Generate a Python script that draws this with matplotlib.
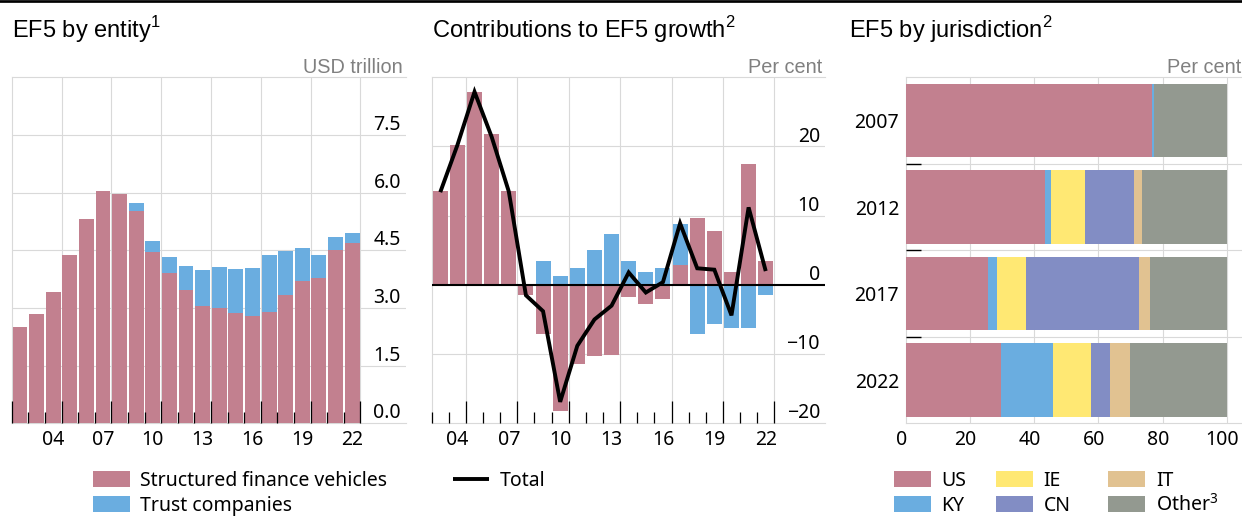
import numpy as np
import matplotlib
matplotlib.use("Agg")
import matplotlib.pyplot as plt
from matplotlib.patches import Rectangle
from matplotlib.lines import Line2D
from matplotlib.transforms import ScaledTranslation

plt.rcParams["font.family"] = ["Noto Sans", "DejaVu Sans"]
plt.rcParams["axes.unicode_minus"] = True

# ---------------- data ----------------
# EF5 by entity, USD trillion
entity_years = list(range(2002, 2023))
sfv_level = [2.51, 2.84, 3.42, 4.38, 5.32, 6.04, 5.97, 5.52, 4.46, 3.91, 3.48,
             3.06, 3.01, 2.87, 2.80, 2.90, 3.34, 3.69, 3.79, 4.52, 4.69]
trust_level = [0.0, 0.0, 0.0, 0.0, 0.0, 0.0, 0.0, 0.21, 0.28, 0.42, 0.61,
               0.93, 1.06, 1.14, 1.24, 1.48, 1.14, 0.87, 0.59, 0.33, 0.26]

# Contributions to EF5 growth, per cent
growth_years = list(range(2003, 2023))
sfv_contrib = [13.5, 20.2, 27.9, 21.8, 13.6, -1.5, -7.1, -18.2, -11.4, -10.3,
               -10.1, -1.8, -2.8, -2.1, 2.9, 9.6, 7.8, 1.9, 17.4, 3.5]
trust_contrib = [0.0, 0.0, 0.0, 0.0, 0.0, 0.0, 3.4, 1.35, 2.5, 5.1,
                 7.3, 3.5, 1.8, 2.4, 5.9, -7.1, -5.7, -6.25, -6.25, -1.5]
total_growth = [13.4, 20.2, 27.9, 21.4, 13.5, -1.5, -3.8, -16.9, -8.8, -5.0,
                -3.0, 1.8, -1.1, 0.4, 8.9, 2.4, 2.2, -4.4, 11.2, 2.0]

# EF5 by jurisdiction, per cent
jur_years = ["2007", "2012", "2017", "2022"]
jur_names = ["US", "KY", "IE", "CN", "IT", "Other"]
share_us = [76.6, 43.4, 25.5, 29.7]
share_ky = [0.6, 1.9, 2.9, 16.2]
share_ie = [0.0, 10.6, 9.0, 11.8]
share_cn = [0.0, 15.3, 35.2, 5.9]
share_it = [0.0, 2.5, 3.4, 6.2]
share_other = [22.8, 26.3, 24.0, 30.2]

# ---------------- style ----------------
PINK = "#C2808F"
BLUE = "#6AADE0"
YELLOW = "#FFE873"
PURPLE = "#828DC4"
TAN = "#E1C291"
GREYBAR = "#939990"
GRID = "#D9D9D9"
UNIT = "#808080"
TICK_FS = 14
LEG_FS = 14
TITLE_FS = 17
TITLE_FONT = ["Liberation Sans", "DejaVu Sans"]

W, H = 1242, 516
fig = plt.figure(figsize=(W / 100, H / 100), dpi=100)


def axes_px(left, top, right, bottom):
    return fig.add_axes([left / W, 1 - bottom / H, (right - left) / W, (bottom - top) / H])


def frame(ax):
    for side in ("left", "top", "bottom"):
        ax.spines[side].set_color(GRID)
        ax.spines[side].set_linewidth(0.8)
        ax.spines[side].set_zorder(0.5)
    ax.spines["right"].set_visible(False)


def guides(ax, xs=(), ys=()):
    for x in xs:
        ax.axvline(x, color=GRID, lw=0.8, zorder=0)
    for y in ys:
        ax.axhline(y, color=GRID, lw=0.8, zorder=0)


def inside_right_labels(ax, ticks, labels):
    ax.yaxis.tick_right()
    ax.set_yticks(ticks)
    ax.set_yticklabels(labels)
    ax.tick_params(axis="y", which="both", length=0, pad=-3.6, labelsize=TICK_FS)
    plt.setp(ax.get_yticklabels(), ha="right", va="bottom")


def year_axis(ax, first_edge, major_edges, label_years):
    ax.set_xticks(major_edges)
    ax.set_xticks(np.arange(first_edge, major_edges[-1] + 0.01, 1.0), minor=True)
    ax.tick_params(axis="x", which="major", direction="in", length=15.8, width=0.9,
                   color="black", labelbottom=False)
    ax.tick_params(axis="x", which="minor", direction="in", length=7.9, width=0.9,
                   color="black")
    sec = ax.secondary_xaxis("bottom")
    sec.set_xticks(label_years)
    sec.set_xticklabels([f"{y % 100:02d}" for y in label_years])
    sec.tick_params(length=0, pad=4.5, labelsize=TICK_FS)
    sec.spines["bottom"].set_visible(False)


def unit_label(ax, text, dx=-3):
    ax.annotate(text, xy=(1, 1), xycoords="axes fraction",
                xytext=(dx * 0.72, 4.6 * 0.72), textcoords="offset points",
                ha="right", va="baseline", fontsize=14.3, color=UNIT,
                family=TITLE_FONT)


label_years = [2004, 2007, 2010, 2013, 2016, 2019, 2022]

# ---------------- panel 1: EF5 by entity ----------------
ax1 = axes_px(11.7, 77.3, 406, 423.3)
frame(ax1)
x1 = np.array(entity_years)
sfv1 = np.array(sfv_level)
ax1.bar(x1, sfv1, width=0.9, color=PINK, zorder=1)
ax1.bar(x1, trust_level, width=0.9, bottom=sfv1, color=BLUE, zorder=1)
ax1.set_xlim(2001.5, 2025.25)
ax1.set_ylim(0, 9)
guides(ax1, xs=np.arange(2004.5, 2023, 3), ys=np.arange(1.5, 9, 1.5))
inside_right_labels(ax1, np.arange(0, 9, 1.5), [f"{v:.1f}" for v in np.arange(0, 9, 1.5)])
year_axis(ax1, 2001.5, np.arange(2001.5, 2023, 3), label_years)
unit_label(ax1, "USD trillion")

# ---------------- panel 2: contributions to growth ----------------
ax2 = axes_px(431.7, 77.3, 825, 423.3)
frame(ax2)
x2 = np.array(growth_years)
sfv2 = np.array(sfv_contrib)
tr2 = np.array(trust_contrib)
trust_base = np.where(np.sign(tr2) == np.sign(sfv2), sfv2, 0.0)
ax2.bar(x2, sfv2, width=0.88, color=PINK, zorder=1)
ax2.bar(x2, tr2, width=0.88, bottom=trust_base, color=BLUE, zorder=1)
ax2.axhline(0, color="black", lw=1.5, zorder=3)
ax2.plot(x2, total_growth, color="black", lw=2.8, zorder=4,
         solid_joinstyle="miter", solid_capstyle="butt")
ax2.set_xlim(2002.5, 2025.46)
ax2.set_ylim(-20, 30)
guides(ax2, xs=np.arange(2004.5, 2023, 3), ys=[-10, 10, 20])
inside_right_labels(ax2, [-20, -10, 0, 10, 20], ["\u221220", "\u221210", "0", "10", "20"])
year_axis(ax2, 2002.5, np.arange(2004.5, 2023, 3), label_years)
unit_label(ax2, "Per cent")

# ---------------- panel 3: by jurisdiction ----------------
ax3 = axes_px(905.7, 77.3, 1241.5, 423.3)
frame(ax3)
y3 = np.arange(len(jur_years))
shares = [share_us, share_ky, share_ie, share_cn, share_it, share_other]
colors3 = [PINK, BLUE, YELLOW, PURPLE, TAN, GREYBAR]
left = np.zeros(len(jur_years))
for vals, col, name in zip(shares, colors3, jur_names):
    ax3.barh(y3, vals, left=left, height=0.85, color=col, zorder=1, label=name)
    left = left + np.array(vals)
ax3.set_ylim(3.5, -0.5)
ax3.set_xlim(0, 104.6)
guides(ax3, xs=[20, 40, 60, 80, 100], ys=[0.5, 1.5, 2.5])
ax3.set_yticks(y3)
ax3.set_yticklabels(jur_years)
ax3.set_yticks([0.5, 1.5, 2.5], minor=True)
ax3.tick_params(axis="y", which="major", length=0, pad=4.8, labelsize=TICK_FS)
ax3.tick_params(axis="y", which="minor", direction="in", length=10.8, width=1.0,
                color="black")
ax3.set_xticks([0, 20, 40, 60, 80, 100])
ax3.tick_params(axis="x", length=0, pad=4.5, labelsize=TICK_FS)
# percentage labels sit slightly left of their gridlines
shift_left = ScaledTranslation(-4.5 / 100, 0, fig.dpi_scale_trans)
for lbl in ax3.get_xticklabels():
    lbl.set_transform(lbl.get_transform() + shift_left)
unit_label(ax3, "Per cent", dx=0)

# ---------------- titles and top rule ----------------
fig.add_artist(Line2D([0, 1], [1 - 1.3 / H, 1 - 1.3 / H], transform=fig.transFigure,
                      color="black", lw=1.95))
for xpx, title in [(12, r"EF5 by entity$^\mathregular{1}$"),
                   (432.5, r"Contributions to EF5 growth$^\mathregular{2}$"),
                   (849.3, r"EF5 by jurisdiction$^\mathregular{2}$")]:
    fig.text(xpx / W, 1 - 37.5 / H, title, fontsize=TITLE_FS, family=TITLE_FONT,
             ha="left", va="baseline", color="black")


# ---------------- legends ----------------
def legend_patch(xpx, row_center, color, text):
    fig.add_artist(Rectangle((xpx / W, 1 - (row_center + 7.7) / H), 37 / W, 15.4 / H,
                             transform=fig.transFigure, color=color, lw=0))
    fig.text((xpx + 47.5) / W, 1 - (row_center + 7.3) / H, text, fontsize=LEG_FS,
             ha="left", va="baseline")


ROW1, ROW2 = 479.0, 503.8
legend_patch(93, ROW1, PINK, "Structured finance vehicles")
legend_patch(93, ROW2, BLUE, "Trust companies")

fig.add_artist(Line2D([453 / W, 489 / W], [1 - ROW1 / H, 1 - ROW1 / H],
                      transform=fig.transFigure, color="black", lw=2.8,
                      solid_capstyle="butt"))
fig.text(500 / W, 1 - (ROW1 + 7.3) / H, "Total", fontsize=LEG_FS, ha="left", va="baseline")

col_x = [894, 996, 1108.3]
legend_order = [(0, 0), (1, 0), (0, 1), (1, 1), (0, 2), (1, 2)]
leg_labels = ["US", "KY", "IE", "CN", "IT", r"Other$^\mathregular{3}$"]
for (row, col), color, lab in zip(legend_order, colors3, leg_labels):
    legend_patch(col_x[col], ROW1 if row == 0 else ROW2, color, lab)

fig.savefig("out.png", dpi=100)
